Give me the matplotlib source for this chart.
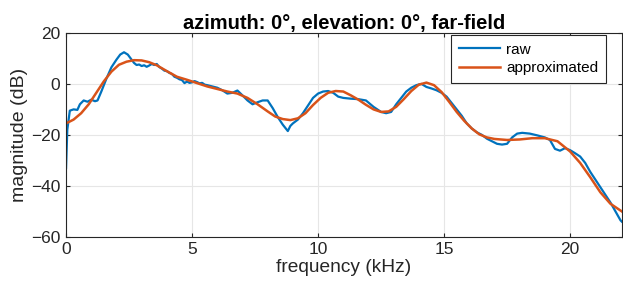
import matplotlib
matplotlib.use("Agg")
import matplotlib.pyplot as plt

raw_f = [0, 0.05, 0.15, 0.3, 0.45, 0.55, 0.7, 0.85, 1.0, 1.15, 1.25, 1.4, 1.6, 1.8, 2.0, 2.15, 2.3,
         2.45, 2.6, 2.7, 2.8, 2.9, 3.0, 3.1, 3.2, 3.3, 3.4, 3.5, 3.6, 3.7, 3.8, 3.9, 4.0, 4.1,
         4.2, 4.3, 4.4, 4.5, 4.6, 4.7, 4.8, 4.9, 5.0, 5.1, 5.2, 5.3, 5.4, 5.5,
         5.6, 5.8, 6.0, 6.2, 6.4, 6.6, 6.8, 7.0, 7.2, 7.4, 7.6, 7.8, 8.0, 8.2, 8.4, 8.6, 8.8,
         8.9, 9.0, 9.2, 9.4, 9.6, 9.8, 10.0, 10.2, 10.4, 10.6, 10.8, 11.0, 11.3, 11.6, 11.9,
         12.2, 12.5, 12.7, 12.9, 13.1, 13.3, 13.5, 13.7, 13.9, 14.1, 14.3, 14.5, 14.7, 14.9,
         15.1, 15.3, 15.5, 15.7, 15.9, 16.1, 16.3, 16.5, 16.7, 16.9, 17.1, 17.3, 17.5, 17.7,
         17.9, 18.1, 18.4, 18.7, 19.0, 19.2, 19.4, 19.6, 19.8, 20.0, 20.2, 20.4, 20.6, 20.8,
         21.0, 21.2, 21.4, 21.6, 21.8, 22.0, 22.05]
raw_db = [-33, -18, -10.5, -10, -10.2, -8, -6.5, -7, -6.2, -6.8, -6.5, -3, 2, 6.5, 9.5, 11.5, 12.4,
          11.5, 9.5, 8.2, 7.4, 7.6, 7.0, 7.3, 6.7, 7.2, 7.8, 7.4, 7.8, 6.6, 6.0, 5.2, 5.0, 4.3,
          3.9, 2.8, 2.4, 1.8, 1.5, 0.3, 0.9, 0.4, 0.6, 1.1, 0.7, 0.2, 0.4, -0.3,
          -0.5, -1, -1.5, -2.5, -3.8, -3.5, -2.6, -4.5, -6.5, -8, -7.2, -6.5, -6.5, -9.5, -13, -16, -18.5,
          -16.5, -15.5, -14, -11.5, -8.5, -5.5, -3.8, -3, -2.8, -3.5, -5, -5.5, -5.8, -6, -6.5,
          -9, -11, -11.5, -11, -8, -5.5, -3, -1.5, -0.5, 0, -1.2, -1.8, -2.5, -3.5,
          -5, -7.5, -10, -12.5, -15.5, -17.5, -19, -20, -21.5, -22.5, -23.5, -23.8, -23.5, -21,
          -19.5, -19.2, -19.5, -20.2, -21, -22, -25.5, -26.2, -25.2, -26, -27.2, -28.5, -31, -34.5,
          -37.5, -40.5, -43.5, -46.5, -50, -53.5, -54]

apx_f = [0, 0.3, 0.6, 0.9, 1.2, 1.5, 1.8, 2.1, 2.4, 2.7, 3.0, 3.3, 3.6, 4.0, 4.4, 4.8, 5.2, 5.6,
         6.0, 6.4, 6.8, 7.2, 7.6, 8.0, 8.3, 8.6, 8.9, 9.2, 9.5, 9.8, 10.1, 10.4, 10.7, 11.0,
         11.3, 11.6, 11.9, 12.2, 12.5, 12.8, 13.1, 13.4, 13.7, 14.0, 14.3, 14.6, 14.9, 15.2,
         15.5, 15.8, 16.1, 16.4, 16.7, 17.0, 17.5, 18.0, 18.5, 19.0, 19.5, 20.0, 20.4, 20.8,
         21.2, 21.6, 22.05]
apx_db = [-15.5, -14, -11.5, -8, -3.5, 1, 4.8, 7.5, 8.7, 9.3, 9.2, 8.5, 7.3, 5, 2.8, 1.6, 0.3, -1,
          -2, -3, -3.8, -5.5, -8, -10.8, -12.8, -13.8, -14.2, -13.5, -11.5, -8.3, -5.5, -3.5, -2.8, -3,
          -4.5, -6.2, -8.2, -10, -11, -10.8, -9, -6, -2.8, -0.3, 0.5, -0.5, -3.2, -7,
          -11, -14.5, -17.5, -19.8, -21, -21.6, -22, -21.8, -21.3, -21.3, -22.5, -26.5, -31, -36.6,
          -42.5, -47, -50]

x_ticks = [0, 5, 10, 15, 20]
y_ticks = [-60, -40, -20, 0, 20]

plt.rcParams['font.family'] = ['Liberation Sans', 'DejaVu Sans']

fig = plt.figure(figsize=(6.23, 2.91), dpi=100)
ax = fig.add_axes([0.106, 0.186, 0.892, 0.701])

ax.plot(raw_f, raw_db, color='#0072BD', lw=1.6, label='raw')
ax.plot(apx_f, apx_db, color='#D95319', lw=1.8, label='approximated')

ax.set_xlim(0, 22.05)
ax.set_ylim(-60, 20)
ax.set_xticks(x_ticks)
ax.set_yticks(y_ticks)
ax.grid(True, color='#e6e6e6', lw=0.8)
ax.set_axisbelow(True)
ax.tick_params(direction='in', labelsize=12.5, length=3, top=True, right=True, colors='#262626',
               pad=4)
for s in ax.spines.values():
    s.set_color('#262626')
    s.set_linewidth(0.8)

ax.set_xlabel('frequency (kHz)', fontsize=13.8, color='#262626', labelpad=1)
ax.set_ylabel('magnitude (dB)', fontsize=14, color='#262626', labelpad=2)
ax.set_title('azimuth: 0°, elevation: 0°, far-field', fontsize=14.5, fontweight='bold', pad=3)

leg = ax.legend(loc='upper right', bbox_to_anchor=(0.972, 0.99), fontsize=11, fancybox=False,
                framealpha=1, edgecolor='#262626', handlelength=2.7, borderaxespad=0,
                labelspacing=0.3, handletextpad=0.4, borderpad=0.5)
leg.get_frame().set_linewidth(0.8)

fig.savefig('out.png', dpi=100)
